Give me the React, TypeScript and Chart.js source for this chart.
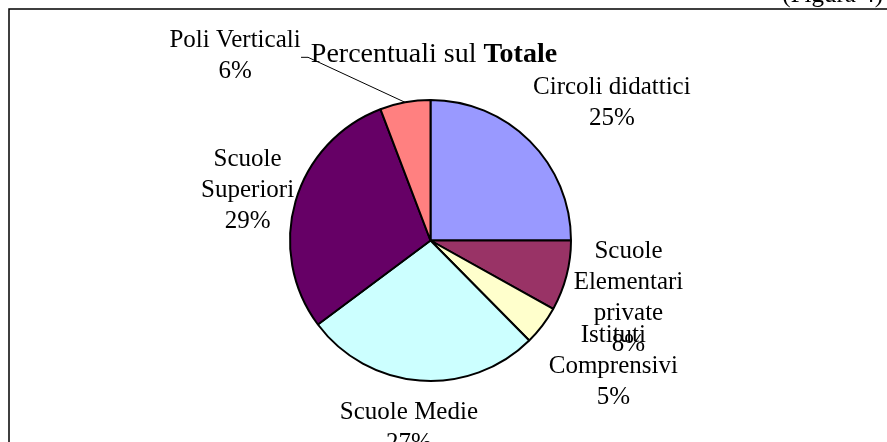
import React, { useEffect, useRef } from "react";
import { Chart, registerables } from "chart.js";

Chart.register(...registerables);

const categories = [
  "Circoli didattici",
  "Scuole Elementari private",
  "Istituti Comprensivi",
  "Scuole Medie",
  "Scuole Superiori",
  "Poli Verticali",
];
const labelLines = [
  ["Circoli didattici"],
  ["Scuole", "Elementari", "private"],
  ["Istituti", "Comprensivi"],
  ["Scuole Medie"],
  ["Scuole", "Superiori"],
  ["Poli Verticali"],
];
const values = [25, 8.1, 4.5, 27.2, 29.4, 5.8];
const colors = ["#9999FF", "#993366", "#FFFFCC", "#CCFFFF", "#660066", "#FF8080"];
// offset of label block (center x, first baseline) relative to slice outer mid-point
const labelOffsets = [
  [82, -47],
  [62, -18],
  [71, 16],
  [-11, 38],
  [-48, -35],
  [-170, -55],
];
const titleRegular = "Percentuali sul ";
const titleBold = "Totale";
const figureText = "(Figura 4)";

const W = 887;
const H = 442;
const FONT = '"Liberation Serif", "Times New Roman", serif';

const labelPlugin = {
  id: "excelLabels",
  afterDraw(chart: any) {
    const ctx = chart.ctx as CanvasRenderingContext2D;
    const meta = chart.getDatasetMeta(0);
    const total = values.reduce((a, b) => a + b, 0);
    ctx.save();
    // frame
    ctx.strokeStyle = "#000";
    ctx.lineWidth = 1.5;
    ctx.beginPath();
    ctx.moveTo(9, H);
    ctx.lineTo(9, 9);
    ctx.lineTo(W, 9);
    ctx.stroke();
    // figure caption (cropped at top)
    ctx.fillStyle = "#000";
    ctx.font = `25px ${FONT}`;
    ctx.textAlign = "right";
    ctx.textBaseline = "alphabetic";
    ctx.fillText(figureText, 883, 2);

    // title
    ctx.font = `28px ${FONT}`;
    const w1 = ctx.measureText(titleRegular).width;
    ctx.font = `bold 28px ${FONT}`;
    const w2 = ctx.measureText(titleBold).width;
    const tx = 434 - (w1 + w2) / 2;
    ctx.textAlign = "left";
    ctx.font = `28px ${FONT}`;
    ctx.fillText(titleRegular, tx, 62);
    ctx.font = `bold 28px ${FONT}`;
    ctx.fillText(titleBold, tx + w1, 62);

    // labels
    ctx.font = `25px ${FONT}`;
    ctx.textAlign = "center";
    meta.data.forEach((arc: any, i: number) => {
      const mid = (arc.startAngle + arc.endAngle) / 2;
      const px = arc.x + Math.cos(mid) * arc.outerRadius;
      const py = arc.y + Math.sin(mid) * arc.outerRadius;
      const x = px + labelOffsets[i][0];
      const y = py + labelOffsets[i][1];
      const pct = Math.round((values[i] / total) * 100) + "%";
      const lines = [...labelLines[i], pct];
      lines.forEach((ln, k) => ctx.fillText(ln, x, y + k * 31));
      if (i === 5) {
        ctx.lineWidth = 1;
        ctx.beginPath();
        ctx.moveTo(x + 66, y + 10);
        ctx.lineTo(x + 73, y + 10);
        ctx.lineTo(px, py);
        ctx.stroke();
      }
    });
    ctx.restore();
  },
};

export default function App() {
  const ref = useRef<HTMLCanvasElement>(null);
  useEffect(() => {
    document.body.style.margin = "0";
    const chart = new Chart(ref.current!, {
      type: "pie",
      data: {
        labels: categories,
        datasets: [
          {
            data: values,
            backgroundColor: colors,
            borderColor: "#000",
            borderWidth: 2,
          },
        ],
      },
      options: {
        responsive: false,
        animation: false,
        devicePixelRatio: 1,
        layout: { padding: { left: 289, right: 315, top: 99, bottom: 60 } },
        plugins: {
          legend: { display: false },
          tooltip: { enabled: false },
          title: { display: false },
        },
      },
      plugins: [labelPlugin],
    });
    return () => chart.destroy();
  }, []);
  return (
    <div style={{ width: W, height: H, background: "#fff" }}>
      <canvas ref={ref} width={W} height={H} style={{ display: "block" }} />
    </div>
  );
}
